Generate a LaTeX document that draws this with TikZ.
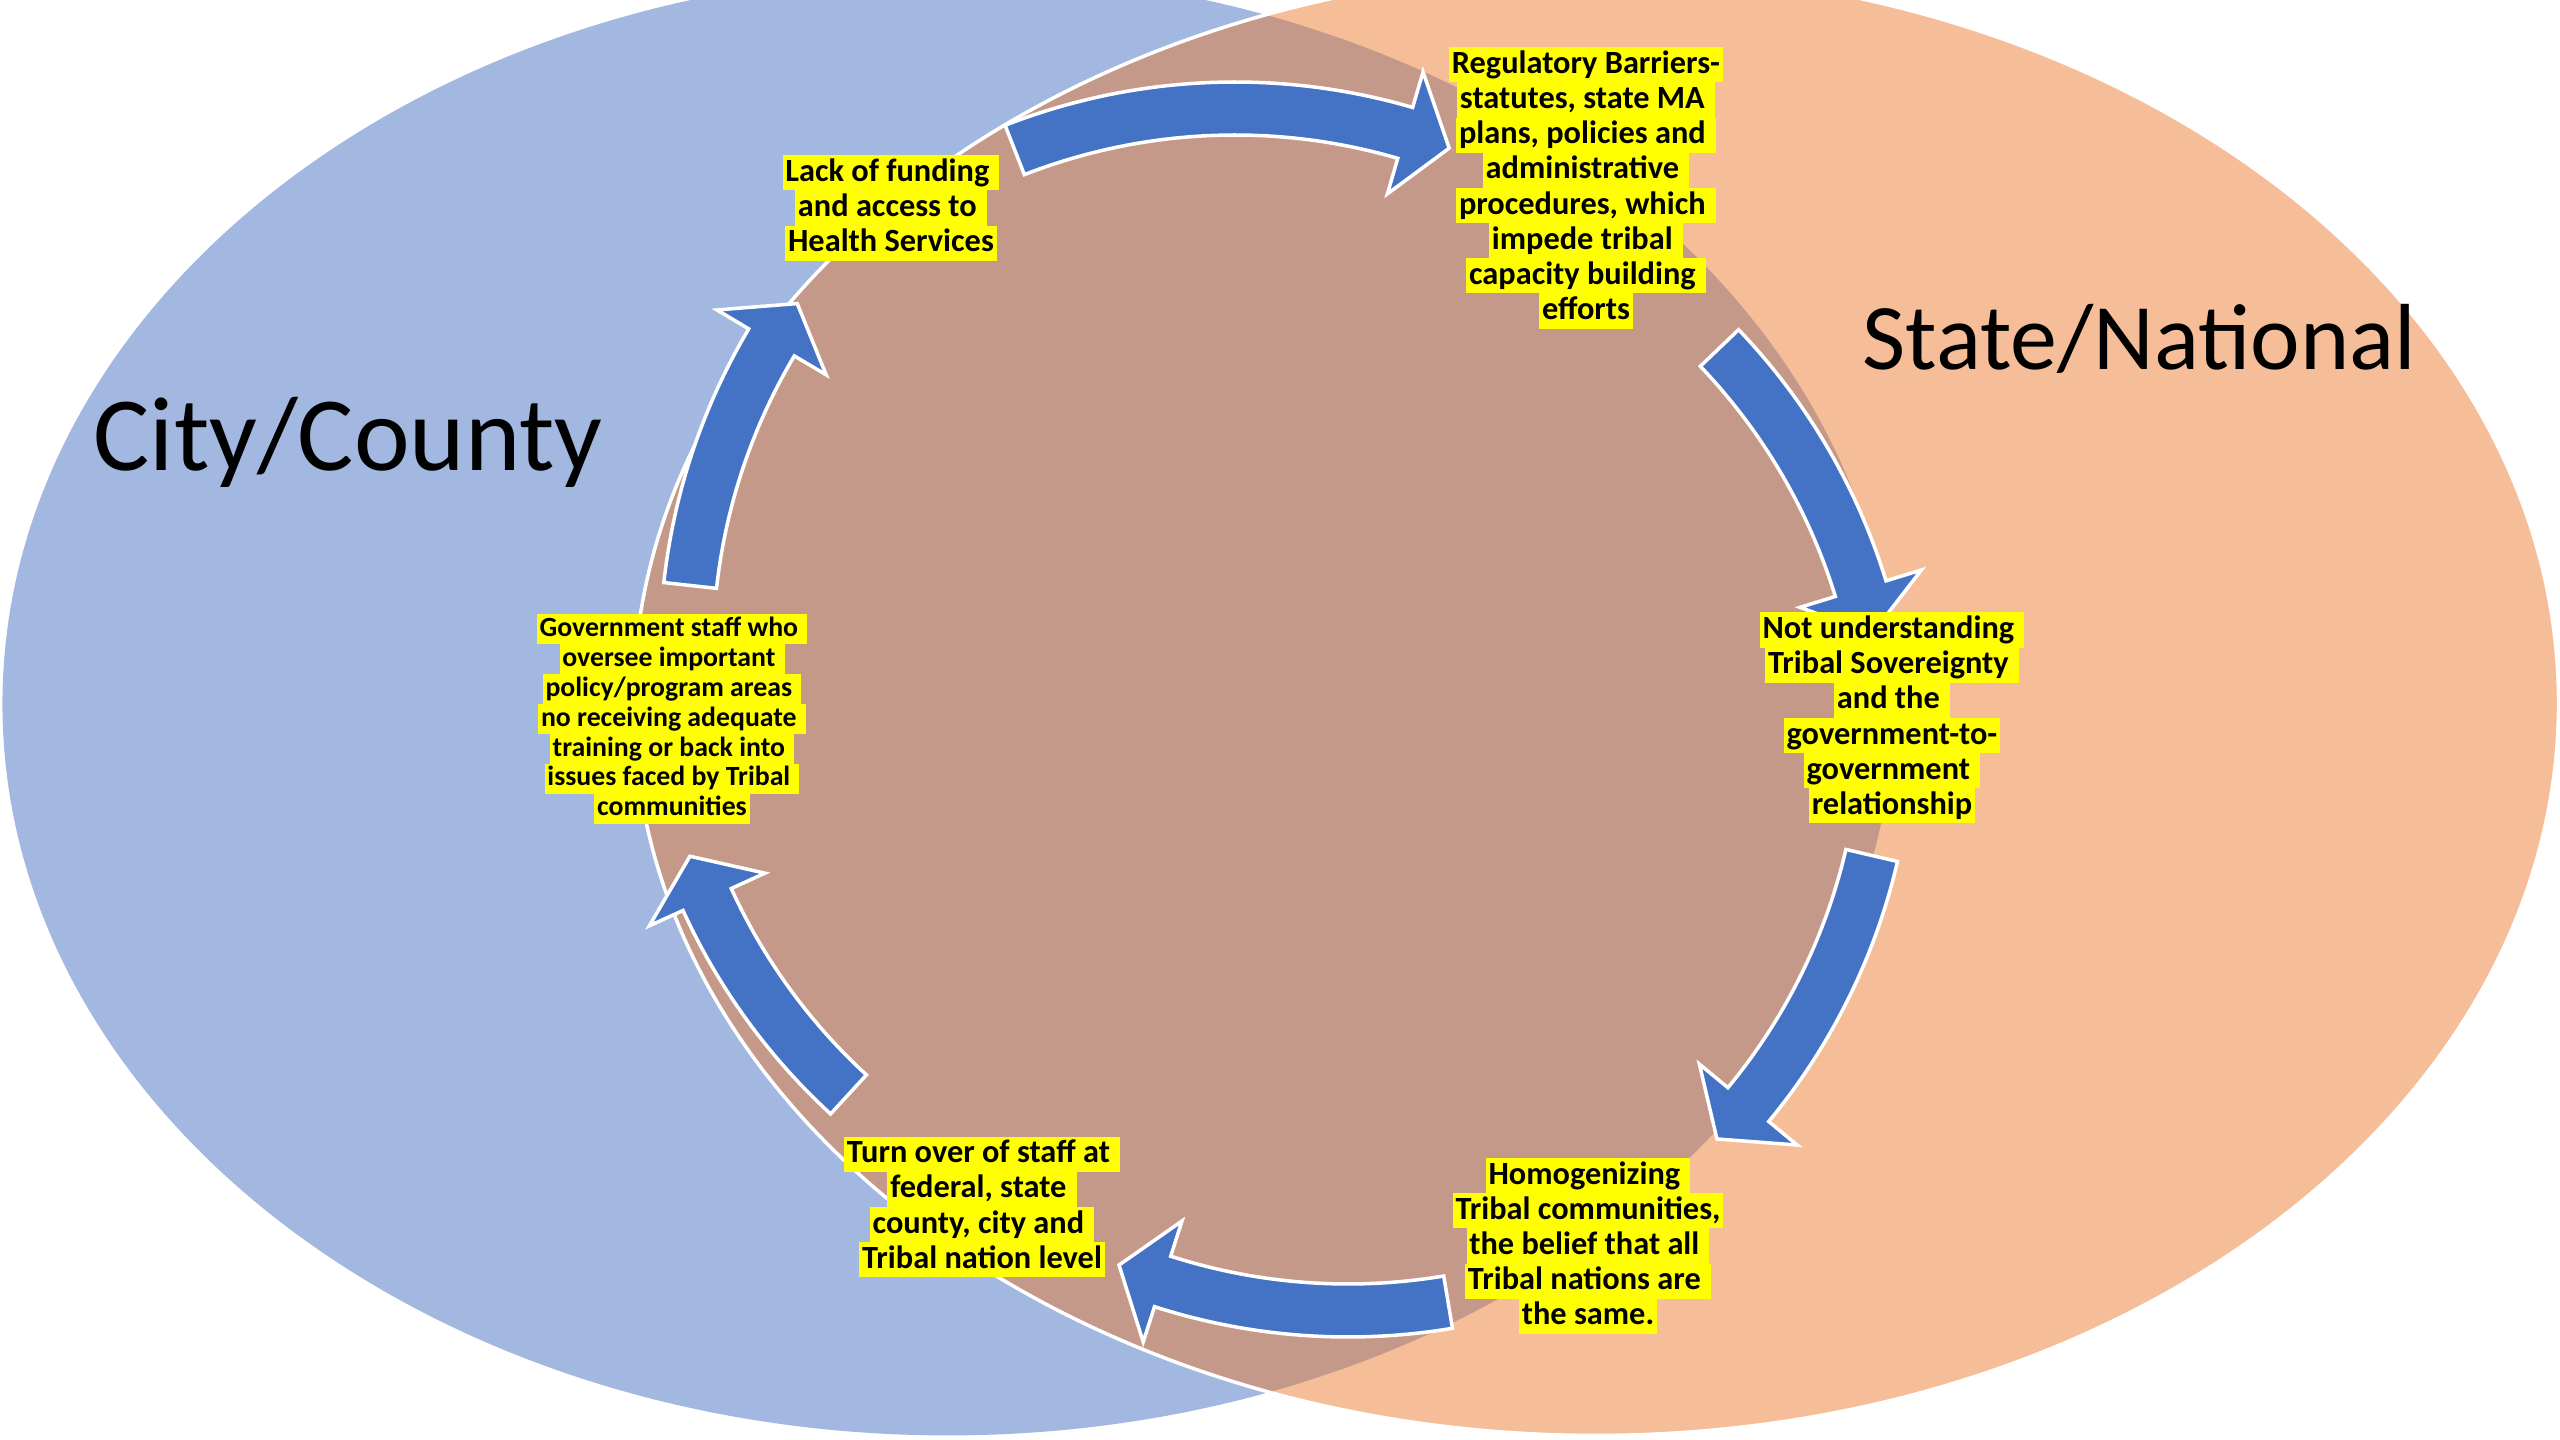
\documentclass[tikz,border=0pt]{standalone}
\usepackage{fontspec}
\setmainfont{Carlito}
\definecolor{bluefill}{RGB}{162,184,224}
\definecolor{orangefill}{RGB}{245,189,152}
\definecolor{overlapfill}{RGB}{196,153,137}
\definecolor{arrowblue}{RGB}{68,114,196}
\definecolor{hlyellow}{RGB}{255,255,0}
\setlength{\fboxsep}{0pt}
\newcommand{\hl}[1]{\colorbox{hlyellow}{\rule[-0.26\baselineskip]{0pt}{\baselineskip}\hspace{0.8pt}#1\hspace{0.8pt}}}
% curved block arrow: centre x, centre y, tail angle, head angle (clockwise on the page)
\newcommand{\cyclearrow}[4]{%
  \path[arrowshape] plot[domain=#3:#4, samples=40] ({#1+633*cos(\x)},{#2+633*sin(\x)})
    -- ({#1+670*cos(#4)},{#2+670*sin(#4)})
    -- ({#1+606*cos(#4+4.4)},{#2+606*sin(#4+4.4)})
    -- ({#1+543*cos(#4)},{#2+543*sin(#4)})
    -- plot[domain=#4:#3, samples=40] ({#1+580*cos(\x)},{#2+580*sin(\x)})
    -- cycle;}
\tikzset{
  arrowshape/.style={fill=arrowblue, draw=white, line width=1pt, line join=miter},
  issue/.style={align=center, inner sep=0pt, font={\fontsize{9.2}{10}\selectfont\bfseries}},
  issuesmall/.style={align=center, inner sep=0pt, font={\fontsize{7.9}{8.5}\selectfont\bfseries}},
  region/.style={anchor=base west, inner sep=0pt},
}
\begin{document}
\lineskiplimit=-5pt
\begin{tikzpicture}[x=0.01cm,y=-0.01cm]
\useasboundingbox (0,0) rectangle (2560,1440);
% Venn ellipses
\fill[bluefill] (948,704) ellipse [x radius=9.45cm, y radius=7.31cm];
\fill[orangefill] (1596,703) ellipse [x radius=9.62cm, y radius=7.32cm];
\begin{scope}
  \clip (948,704) ellipse [x radius=9.45cm, y radius=7.31cm];
  \fill[overlapfill] (1596,703) ellipse [x radius=9.62cm, y radius=7.32cm];
\end{scope}
\draw[white, line width=1pt] (1596,703) ellipse [x radius=9.62cm, y radius=7.32cm];
% region labels
\node[region, font={\fontsize{30}{36}\selectfont}] (city) at (93,471) {City/County};
\node[region, font={\fontsize{26.7}{32}\selectfont}] (state) at (1862,370) {State/National};
% cycle arrows
\cyclearrow{1235}{715}{-111.3}{-73.7}
\cyclearrow{1281}{767}{-43.7}{-17.1}
\cyclearrow{1281}{718}{13.1}{39.6}
\cyclearrow{1348}{704}{80.5}{107.8}
\cyclearrow{1259}{648}{132.6}{155.5}
\cyclearrow{1293}{652}{-173.7}{-149.3}
% issue texts
\node[issue] (lack) at (891,208) {\hl{Lack of funding }\\\hl{and access to }\\\hl{Health Services}};
\node[issue] (reg) at (1586,188) {\hl{Regulatory Barriers-}\\\hl{statutes, state MA }\\\hl{plans, policies and }\\\hl{administrative }\\\hl{procedures, which }\\\hl{impede tribal }\\\hl{capacity building }\\\hl{efforts}};
\node[issue] (sov) at (1892,718) {\hl{Not understanding }\\\hl{Tribal Sovereignty }\\\hl{and the }\\\hl{government-to-}\\\hl{government }\\\hl{relationship}};
\node[issue] (homog) at (1588,1246) {\hl{Homogenizing }\\\hl{Tribal communities,}\\\hl{the belief that all }\\\hl{Tribal nations are }\\\hl{the same.}};
\node[issue] (turn) at (982,1207) {\hl{Turn over of staff at }\\\hl{federal, state }\\\hl{county, city and }\\\hl{Tribal nation level}};
\node[issuesmall] (gov) at (672,719) {\hl{Government staff who }\\\hl{oversee important }\\\hl{policy/program areas }\\\hl{no receiving adequate }\\\hl{training or back into }\\\hl{issues faced by Tribal }\\\hl{communities}};
\end{tikzpicture}
\end{document}
